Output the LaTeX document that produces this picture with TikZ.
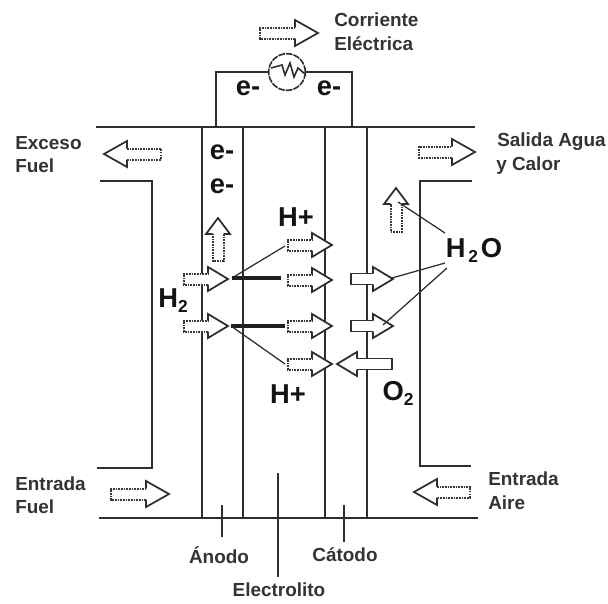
\documentclass[tikz,border=0pt]{standalone}
\usepackage{fontspec}
\setmainfont{Liberation Sans}
\newcommand{\barrowshape}[3]{%
  \fill[white] (0,0) -- (-#2,#3) -- (-#2,5.5) -- (-#1,5.5) -- (-#1,-5.5) -- (-#2,-5.5) -- (-#2,-#3) -- cycle;
  \draw[headline] (-#2,5.5) -- (-#2,#3) -- (0,0) -- (-#2,-#3) -- (-#2,-5.5);
  \draw[tailline] (-#2,5.5) -- (-#1,5.5) -- (-#1,-5.5) -- (-#2,-5.5);
}
\tikzset{
  x=0.75pt,y=-0.75pt,
  wall/.style={line width=1.7pt,draw=black!82},
  electrode/.style={line width=1.7pt,draw=black!82},
  thinline/.style={line width=0.95pt,draw=black!82},
  boldline/.style={line width=2.4pt,draw=black!88},
  headline/.style={line width=1.3pt,draw=black!82,line join=miter},
  tailline/.style={line width=1.5pt,draw=black!78,dash pattern=on 1.2pt off 0.8pt},
  solidtail/.style={tailline/.style={line width=1.3pt,draw=black!82}},
  pics/longarrow/.style={code={\barrowshape{#1}{23}{13}}},
  pics/shortarrow/.style={code={\barrowshape{#1}{20}{12}}},
  pics/uparrow/.style={code={\barrowshape{#1}{16}{12}}},
  lab/.style={font=\fontsize{14.2pt}{16pt}\selectfont\bfseries,text=black!80,inner sep=0pt,anchor=west},
  labc/.style={font=\fontsize{14.2pt}{16pt}\selectfont\bfseries,text=black!80,inner sep=0pt,anchor=center},
  big/.style={font=\fontsize{20.5pt}{22pt}\selectfont\bfseries,text=black!92,inner sep=0pt,anchor=center},
}
\begin{document}
\begin{tikzpicture}
\useasboundingbox (0,0) rectangle (608,604);
% frame coordinates
\coordinate (tl) at (96,127);\coordinate (tr) at (475,127);
\coordinate (bl) at (99,518);\coordinate (br) at (478,518);
\coordinate (a1t) at (202,127);\coordinate (a1b) at (202,518);
\coordinate (a2t) at (243,127);\coordinate (a2b) at (243,518);
\coordinate (c1t) at (325,127);\coordinate (c1b) at (325,518);
\coordinate (c2t) at (367,127);\coordinate (c2b) at (367,518);
\draw[wall] (tl) -- (tr);
\draw[wall] (bl) -- (br);
\draw[wall] (100,181) -- (152,181) -- (152,468) -- (97,468);
\draw[wall] (472,181) -- (420,181) -- (420,466) -- (471,466);
\foreach \p/\q in {a1t/a1b,a2t/a2b,c1t/c1b,c2t/c2b} \draw[electrode] (\p) -- (\q);
% external circuit
\node[circle,draw=black!82,line width=1.2pt,fill=white,minimum size=27.5pt,inner sep=0pt,dash pattern=on 5pt off 0.8pt] (load) at (287,72) {};
\coordinate (cl) at (216,127);\coordinate (cr) at (352,127);
\draw[wall] (cl) |- (load.west);
\draw[wall] (cr) |- (load.east);
\draw[line width=1.2pt,draw=black!82] (271,68) -- (282,65) -- (285,75) -- (290,63) -- (294,77) -- (298,68) -- (305,74);
% reaction lines
\coordinate (ha) at (232,278);\coordinate (hb) at (231,326);
\coordinate (p1) at (285,246);\coordinate (p2) at (281,278);\coordinate (p3) at (285,326);\coordinate (p4) at (285,364);
\draw[thinline] (ha) -- (p1);
\draw[boldline] (ha) -- (p2);
\draw[boldline] (hb) -- (p3);
\draw[thinline] (hb) -- (p4);
% block arrows
\pic at (318,33) {longarrow=58};
\pic[rotate=180] at (104,154) {longarrow=57};
\pic at (475,152) {longarrow=56};
\pic at (169,494) {longarrow=58};
\pic[rotate=180] at (414,492) {longarrow=56};
\pic[rotate=90] at (218,218) {uparrow=43};
\pic[rotate=90] at (396,188) {uparrow=44};
\pic at (228,279) {shortarrow=44};
\pic at (228,326) {shortarrow=44};
\pic at (332,245) {shortarrow=44};
\pic at (332,280) {shortarrow=44};
\pic at (332,326) {shortarrow=44};
\pic at (332,364) {shortarrow=44};
\pic[solidtail] at (393,279) {shortarrow=42};
\pic[solidtail] at (393,326) {shortarrow=42};
\pic[rotate=180,solidtail] at (337,364) {shortarrow=55};
% H2O leaders
\node[big] (hto) at (474,250) {H\raisebox{-0.35ex}{\fontsize{13pt}{15pt}\selectfont\,2\,}O};
\coordinate (w1) at (398,202);\coordinate (w2) at (392,278);\coordinate (w3) at (383,325);
\coordinate (s1) at (445,233);\coordinate (s2) at (445,263);\coordinate (s3) at (447,268);
\draw[thinline] (s1) -- (w1);
\draw[thinline] (s2) -- (w2);
\draw[thinline] (s3) -- (w3);
% electrode ticks
\coordinate (t1a) at (222,505);\coordinate (t1b) at (222,537);
\coordinate (t2a) at (278,473);\coordinate (t2b) at (278,577);
\coordinate (t3a) at (344,505);\coordinate (t3b) at (344,542);
\draw[thinline] (t1a) -- (t1b);
\draw[thinline] (t2a) -- (t2b);
\draw[thinline] (t3a) -- (t3b);
% labels
\node[lab] (corr) at (334,20) {Corriente};
\node[lab] (elec) at (334,44) {Eléctrica};
\node[lab] (exc) at (15,143) {Exceso};
\node[lab] (fu1) at (15,166) {Fuel};
\node[lab] (ent1) at (15,484) {Entrada};
\node[lab] (fu2) at (15,507) {Fuel};
\node[lab] (ent2) at (488,479) {Entrada};
\node[lab] (air) at (488,503) {Aire};
\node[lab] (sal) at (497,142) {Salida Agua};
\node[lab] (cal) at (496,166) {y Calor};
\node[labc] (ano) at (219,555) {Ánodo};
\node[labc] (cat) at (345,555) {Cátodo};
\node[labc] (eli) at (279,590) {Electrolito};
\node[big] (e1) at (248,88) {e-};
\node[big] (e2) at (329,88) {e-};
\node[big] (e3) at (222,152) {e-};
\node[big] (e4) at (222,186) {e-};
\node[big] (hp1) at (296,217) {H+};
\node[big] (hp2) at (288,394) {H+};
\node[big] (ht) at (173,301) {H\raisebox{-0.35ex}{\fontsize{13pt}{15pt}\selectfont 2}};
\node[big] (ot) at (398,393) {O\raisebox{-0.35ex}{\fontsize{13pt}{15pt}\selectfont 2}};
\end{tikzpicture}
\end{document}
